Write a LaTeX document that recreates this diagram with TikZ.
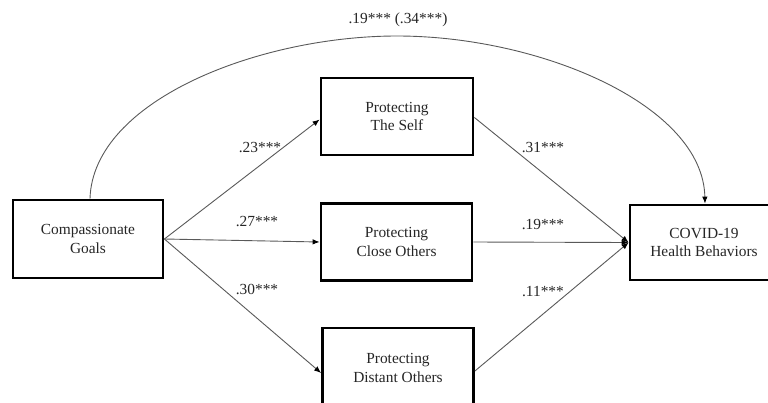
\documentclass[tikz,border=0pt]{standalone}
\usepackage{fontspec}
\setmainfont{Liberation Serif}
\usetikzlibrary{arrows.meta}
\begin{document}
\begin{tikzpicture}[x=1pt,y=-1pt,
  box/.style={draw=black,line width=2.8pt,fill=white,align=center,inner sep=0pt,
    font=\fontsize{15.4}{18.5}\selectfont,text=black!85},
  lab/.style={font=\fontsize{15.4}{18.5}\selectfont,text=black!85,inner sep=0pt},
  path/.style={draw=black!65,line width=0.9pt,-{Latex[length=7pt,width=5.5pt,black]}}]
\useasboundingbox (0,0) rectangle (768,402);
\clip (0,0) rectangle (768,402);
\node[box,minimum width=150pt,minimum height=78pt] (cg) at (88,239) {Compassionate\\Goals};
\node[box,minimum width=152pt,minimum height=77pt] (ps) at (397,116.5) {Protecting\\The Self};
\node[box,minimum width=151pt,minimum height=77pt] (pc) at (396.5,242) {Protecting\\Close Others};
\node[box,minimum width=151pt,minimum height=80pt] (pd) at (398,368) {Protecting\\Distant Others};
\node[box,minimum width=148pt,minimum height=75pt] (cv) at (704,242.5) {COVID-19\\Health Behaviors};
\coordinate (cgtop) at ([xshift=2pt]cg.north);
\coordinate (cvtop) at ([xshift=1pt]cv.north);
\coordinate (arctop) at (397,36);
\draw[path] (cgtop) .. controls (93,100) and (260,36) .. (arctop)
  .. controls (540,36) and (703,105) .. (cvtop);
\draw[path] (cg.east) -- ([yshift=-3pt]ps.west);
\draw[path] (cg.east) -- (pc.west);
\draw[path] (cg.east) -- ([yshift=-5pt]pd.west);
\draw[path] ([yshift=-1pt]ps.east) -- (cv.west);
\draw[path] (pc.east) -- (cv.west);
\draw[path] ([yshift=-3pt]pd.east) -- (cv.west);
\node[lab] (ldir) at (398,20) {.19*** (.34***)};
\node[lab] (l1) at (260,148) {.23***};
\node[lab] (l2) at (257,222) {.27***};
\node[lab] (l3) at (257,289) {.30***};
\node[lab] (l4) at (543,148) {.31***};
\node[lab] (l5) at (543,225) {.19***};
\node[lab] (l6) at (543,292) {.11***};
\end{tikzpicture}
\end{document}
